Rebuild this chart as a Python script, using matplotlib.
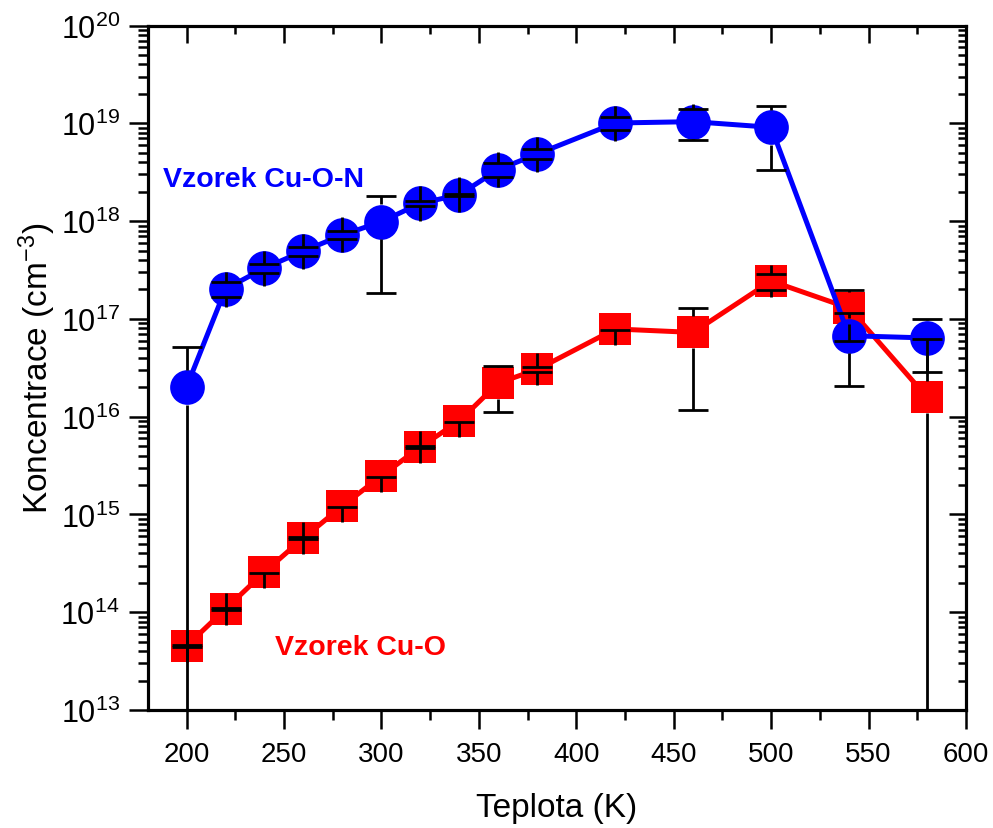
import numpy as np
import matplotlib
matplotlib.use("Agg")
import matplotlib.pyplot as plt
from matplotlib.ticker import MultipleLocator, LogLocator, NullFormatter, LogFormatterMathtext

plt.rcParams['font.family'] = ['Liberation Sans', 'DejaVu Sans']
plt.rcParams['mathtext.fontset'] = 'custom'
plt.rcParams['mathtext.rm'] = 'Liberation Sans'
plt.rcParams['mathtext.default'] = 'regular'

# Teplota (K)
temps = [200, 220, 240, 260, 280, 300, 320, 340, 360, 380, 420, 460, 500, 540, 580]

# Vzorek Cu-O-N  (cm^-3), symmetric errors
conc_cuon = [2.01e16, 2.02e17, 3.31e17, 4.94e17, 7.21e17, 9.86e17, 1.52e18, 1.86e18,
             3.37e18, 4.85e18, 1.007e19, 1.04e19, 9.1e18, 6.73e16, 6.38e16]
err_cuon = [3.2e16, 3.6e16, 3.5e16, 5.0e16, 6.8e16, 8.0e17, 1.0e17, 4.0e16,
            5.6e17, 5.5e17, 1.45e18, 3.7e18, 5.8e18, 4.67e16, 3.5e16]

# Vzorek Cu-O  (cm^-3), plus / minus errors
conc_cuo = [4.52e13, 1.08e14, 2.58e14, 5.75e14, 1.22e15, 2.48e15, 4.90e15, 9.04e15,
            2.21e16, 3.04e16, 7.89e16, 7.27e16, 2.44e17, 1.29e17, 1.58e16]
err_hi_cuo = [1e12, 2e12, 0, 1e13, 0, 0, 1e14, 0,
              1.1e16, 1.8e15, 0, 5.6e16, 4.5e16, 7.0e16, 4.6e16]
err_lo_cuo = [1e12, 2e12, 5e12, 1e13, 2e13, 5e13, 1e14, 2e14,
              1.1e16, 1.8e15, 1.5e15, 6.1e16, 4.5e16, 7.0e16, 4.6e16]


def draw_errors(ax, x, y, lo, hi, gap_px):
    """Error bars that start at the symbol edge instead of running through it."""
    x, y, lo, hi = (np.asarray(a, dtype=float) for a in (x, y, lo, hi))
    p0 = ax.transData.transform((x[0], 1e13))[1]
    p1 = ax.transData.transform((x[0], 1e14))[1]
    f = 10 ** (gap_px / (p1 - p0))
    floor = ax.get_ylim()[0] / 100.0
    kw = dict(color='black', lw=2.0, zorder=5)
    cap = dict(ls='none', marker='_', ms=21, mew=2.0, color='black', zorder=5)

    up = hi > 0
    top = y + hi
    ax.vlines(x[up], y[up] * f, top[up], **kw)
    ax.plot(x[up], top[up], **cap)

    bottom = y - lo
    ok = bottom > 0
    ax.vlines(x, y / f, np.where(ok, bottom, floor), **kw)
    ax.plot(x[ok], bottom[ok], **cap)


fig = plt.figure(figsize=(9.93, 8.29), dpi=100)
ax = fig.add_axes([0.1486, 0.1423, 0.8242, 0.8257])

ax.set_yscale('log')
ax.set_xlim(180, 600)
ax.set_ylim(1e13, 1e20)

ax.plot(temps, conc_cuo, color='red', lw=3.6, marker='s', ms=23,
        markeredgewidth=0, zorder=2)
ax.plot(temps, conc_cuon, color='blue', lw=3.6, marker='o', ms=25,
        markeredgewidth=0, zorder=3)

draw_errors(ax, temps, conc_cuon, err_cuon, err_cuon, 17.5)
draw_errors(ax, temps, conc_cuo, err_lo_cuo, err_hi_cuo, 16.0)

ax.text(188, 2.7e18, 'Vzorek Cu-O-N', color='blue', fontsize=20.5,
        fontweight='bold', va='center', ha='left')
ax.text(245.5, 4.4e13, 'Vzorek Cu-O', color='red', fontsize=20.5,
        fontweight='bold', va='center', ha='left')

# bottom / left: outward ticks with labels
ax.xaxis.set_major_locator(MultipleLocator(50))
ax.xaxis.set_minor_locator(MultipleLocator(25))
ax.yaxis.set_major_locator(LogLocator(base=10, numticks=20))
ax.yaxis.set_minor_locator(LogLocator(base=10, subs=np.arange(2, 10), numticks=20))
ax.yaxis.set_major_formatter(LogFormatterMathtext())
ax.yaxis.set_minor_formatter(NullFormatter())
ax.tick_params(which='both', direction='out', width=1.8, top=False, right=False)
ax.tick_params(which='major', length=14)
ax.tick_params(which='minor', length=7)
ax.tick_params(axis='x', labelsize=20, pad=8)
ax.tick_params(axis='y', labelsize=22, pad=6)

ax.set_xlabel('Teplota (K)', fontsize=24, labelpad=18)
ax.set_ylabel('Koncentrace (cm$^{-3}$)', fontsize=24, labelpad=2)

# top / right: inward ticks, no labels
ax_top = ax.twiny()
ax_top.set_xlim(ax.get_xlim())
ax_top.xaxis.set_major_locator(MultipleLocator(50))
ax_top.xaxis.set_minor_locator(MultipleLocator(25))
ax_top.tick_params(which='both', direction='in', width=1.8, labeltop=False)
ax_top.tick_params(which='major', length=12)
ax_top.tick_params(which='minor', length=6)
ax_top.yaxis.set_visible(False)

ax_right = ax.twinx()
ax_right.set_yscale('log')
ax_right.set_ylim(ax.get_ylim())
ax_right.yaxis.set_major_locator(LogLocator(base=10, numticks=20))
ax_right.yaxis.set_minor_locator(LogLocator(base=10, subs=np.arange(2, 10), numticks=20))
ax_right.yaxis.set_minor_formatter(NullFormatter())
ax_right.tick_params(which='both', direction='in', width=1.8, labelright=False)
ax_right.tick_params(which='major', length=12)
ax_right.tick_params(which='minor', length=6)
ax_right.xaxis.set_visible(False)

for a in (ax, ax_top, ax_right):
    for s in a.spines.values():
        s.set_linewidth(2.2)

fig.savefig('out.png', dpi=100)
